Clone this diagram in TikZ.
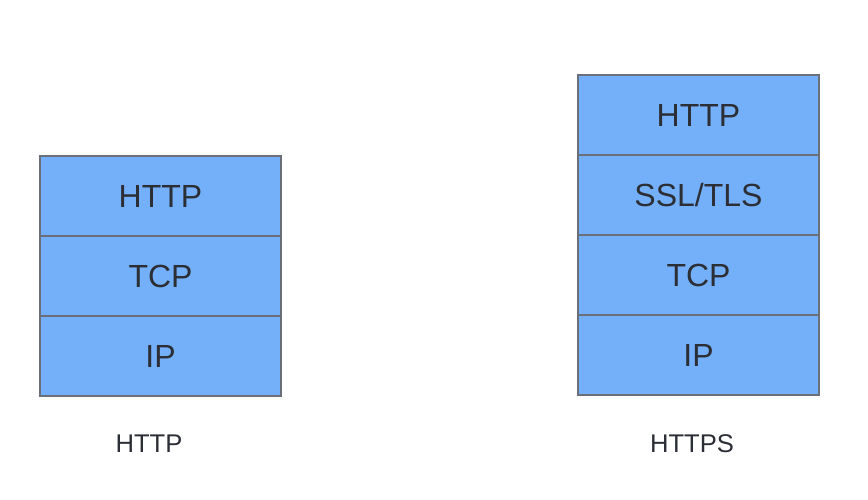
\documentclass[tikz,border=0pt]{standalone}
\usepackage{fontspec}
\setmainfont{Liberation Sans}
\definecolor{layerfill}{HTML}{74B0FA}
\definecolor{layerdraw}{HTML}{6A6F7A}
\definecolor{txt}{HTML}{2B2E35}
\begin{document}
\begin{tikzpicture}[x=0.75pt,y=-0.75pt,
  layer/.style={draw=layerdraw, fill=layerfill, line width=1.2pt,
    minimum width=180.75pt, minimum height=60pt, inner sep=0pt, outer sep=0pt,
    text=txt, font=\fontsize{24}{28}\selectfont},
  caption/.style={text=txt, font=\fontsize{19.2}{23}\selectfont, inner sep=0pt}]
\useasboundingbox (0,0) rectangle (868,500);
% left stack
\node[layer] (lhttp) at (160.5,196) {HTTP};
\node[layer] (ltcp) at (160.5,276) {TCP};
\node[layer] (lip) at (160.5,356) {IP};
% right stack
\node[layer] (rhttp) at (698.5,115) {HTTP};
\node[layer] (rssl) at (698.5,195) {SSL/TLS};
\node[layer] (rtcp) at (698.5,275) {TCP};
\node[layer] (rip) at (698.5,355) {IP};
% captions
\node[caption] (lcap) at (149,444) {HTTP};
\node[caption] (rcap) at (692,444) {HTTPS};
\end{tikzpicture}
\end{document}
